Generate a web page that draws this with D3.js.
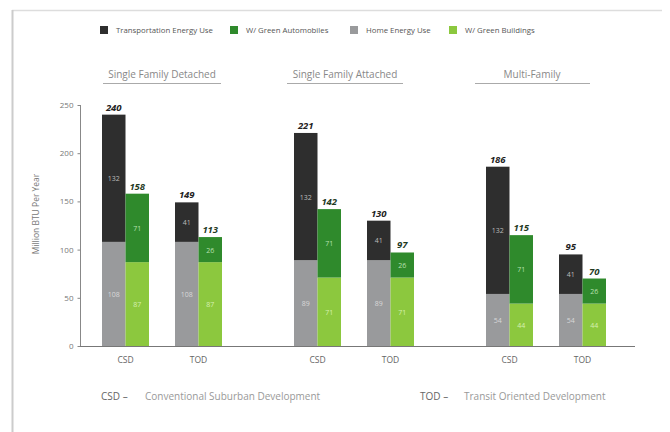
<!DOCTYPE html>
<html><head><meta charset="utf-8">
<script src="https://cdn.jsdelivr.net/npm/d3@7"></script>
<style>body{margin:0;background:#fff;font-family:"Open Sans",Lato,sans-serif;}</style>
</head><body><svg id="c" width="670" height="432"></svg>
<script>
const groups = ["Single Family Detached","Single Family Attached","Multi-Family"];
const scenarios = ["CSD","TOD"];
// per group, per scenario
const homeEnergy = [[108,108],[89,89],[54,54]];
const transportEnergy = [[132,41],[132,41],[132,41]];
const greenBuildings = [[87,87],[71,71],[44,44]];
const greenAutos = [[71,26],[71,26],[71,26]];
const yTicks = [0,50,100,150,200,250];
const legendLabels = ["Transportation Energy Use","W/ Green Automobiles","Home Energy Use","W/ Green Buildings"];
const footAbbr = ["CSD","TOD"];
const footDesc = ["Conventional Suburban Development","Transit Oriented Development"];
const colors = {transport:"#2e2e2e", greenAuto:"#2f8a2c", home:"#999a9c", greenBldg:"#8cc83e"};

const svg = d3.select("#c");
// faint frame
svg.append("line").attr("x1",12).attr("x2",662).attr("y1",10.5).attr("y2",10.5).attr("stroke","#ddd").attr("stroke-width",1.5);
svg.append("line").attr("x1",12.5).attr("x2",12.5).attr("y1",10).attr("y2",432).attr("stroke","#ccc").attr("stroke-width",2);

const y = d3.scaleLinear().domain([0,250]).range([346,105]);
const groupStart = [102,294,486];
const bw = 23.5;
const scenOffset = d3.scalePoint().domain(scenarios).range([0,73]);

// y axis
const yAxis = d3.axisLeft(y).tickValues(yTicks).tickSize(3).tickPadding(4);
const ya = svg.append("g").attr("transform","translate(80.5,0)").call(yAxis);
ya.select(".domain").attr("stroke","#888").attr("d","M0,105V346");
ya.selectAll(".tick line").attr("stroke","#888");
ya.selectAll("text").attr("fill","#777").attr("font-size",8).attr("font-family","Open Sans");
svg.append("line").attr("x1",80).attr("x2",635).attr("y1",346.5).attr("y2",346.5).attr("stroke","#777");
svg.append("text").attr("transform","translate(39,214) rotate(-90)").attr("text-anchor","middle")
  .attr("font-size",8.5).attr("fill","#777").text("Million BTU Per Year");

// legend
const legX = [104,234,354,453];
const legCol = [colors.transport,colors.greenAuto,colors.home,colors.greenBldg];
legendLabels.forEach((l,i)=>{
  svg.append("rect").attr("x",legX[i]-4).attr("y",26).attr("width",8).attr("height",8).attr("fill",legCol[i]);
  svg.append("text").attr("x",legX[i]+12).attr("y",33).attr("font-size",7.8).attr("fill","#555").text(l);
});

// group titles
const titleCx = [162,345,532];
const ulines = [[103,221],[287,403],[475,590]];
groups.forEach((g,i)=>{
  svg.append("text").attr("x",titleCx[i]).attr("y",78).attr("text-anchor","middle").attr("font-size",10).attr("fill","#888").text(g);
  svg.append("line").attr("x1",ulines[i][0]).attr("x2",ulines[i][1]).attr("y1",83.5).attr("y2",83.5).attr("stroke","#aaa");
});

function bar(x, y0, v, col, label, lblCol){
  const top = y(y0+v), bot = y(y0);
  svg.append("rect").attr("x",x).attr("y",top).attr("width",bw).attr("height",bot-top).attr("fill",col);
  svg.append("text").attr("x",x+bw/2).attr("y",(top+bot)/2+3).attr("text-anchor","middle")
    .attr("font-size",7).attr("fill",lblCol).text(label);
}
groups.forEach((g,gi)=>{
  scenarios.forEach((s,si)=>{
    const x0 = groupStart[gi]+scenOffset(s);
    const h = homeEnergy[gi][si], t = transportEnergy[gi][si];
    bar(x0,0,h,colors.home,h,"#d8d8d8");
    bar(x0,h,t,colors.transport,t,"#bbb");
    svg.append("text").attr("x",x0+bw/2).attr("y",y(h+t)-4).attr("text-anchor","middle")
      .attr("font-size",9.5).attr("font-weight","bold").attr("font-style","italic").attr("fill","#222").text(h+t);
    const x1 = x0+bw;
    const b = greenBuildings[gi][si], a = greenAutos[gi][si];
    bar(x1,0,b,colors.greenBldg,b,"#d6f0b0");
    bar(x1,b,a,colors.greenAuto,a,"#b8e0b0");
    svg.append("text").attr("x",x1+bw/2).attr("y",y(a+b)-4).attr("text-anchor","middle")
      .attr("font-size",9.5).attr("font-weight","bold").attr("font-style","italic").attr("fill","#1f3a1f").text(a+b);
    svg.append("text").attr("x",x0+bw).attr("y",363).attr("text-anchor","middle")
      .attr("font-size",8.5).attr("fill","#666").text(s);
  });
});

// footnotes
const footX = [101,420];
footAbbr.forEach((a,i)=>{
  svg.append("text").attr("x",footX[i]).attr("y",400).attr("font-size",10).attr("fill","#666").text(a+"  –");
  svg.append("text").attr("x",footX[i]+44).attr("y",400).attr("font-size",10).attr("fill","#999").text(footDesc[i]);
});
</script></body></html>
